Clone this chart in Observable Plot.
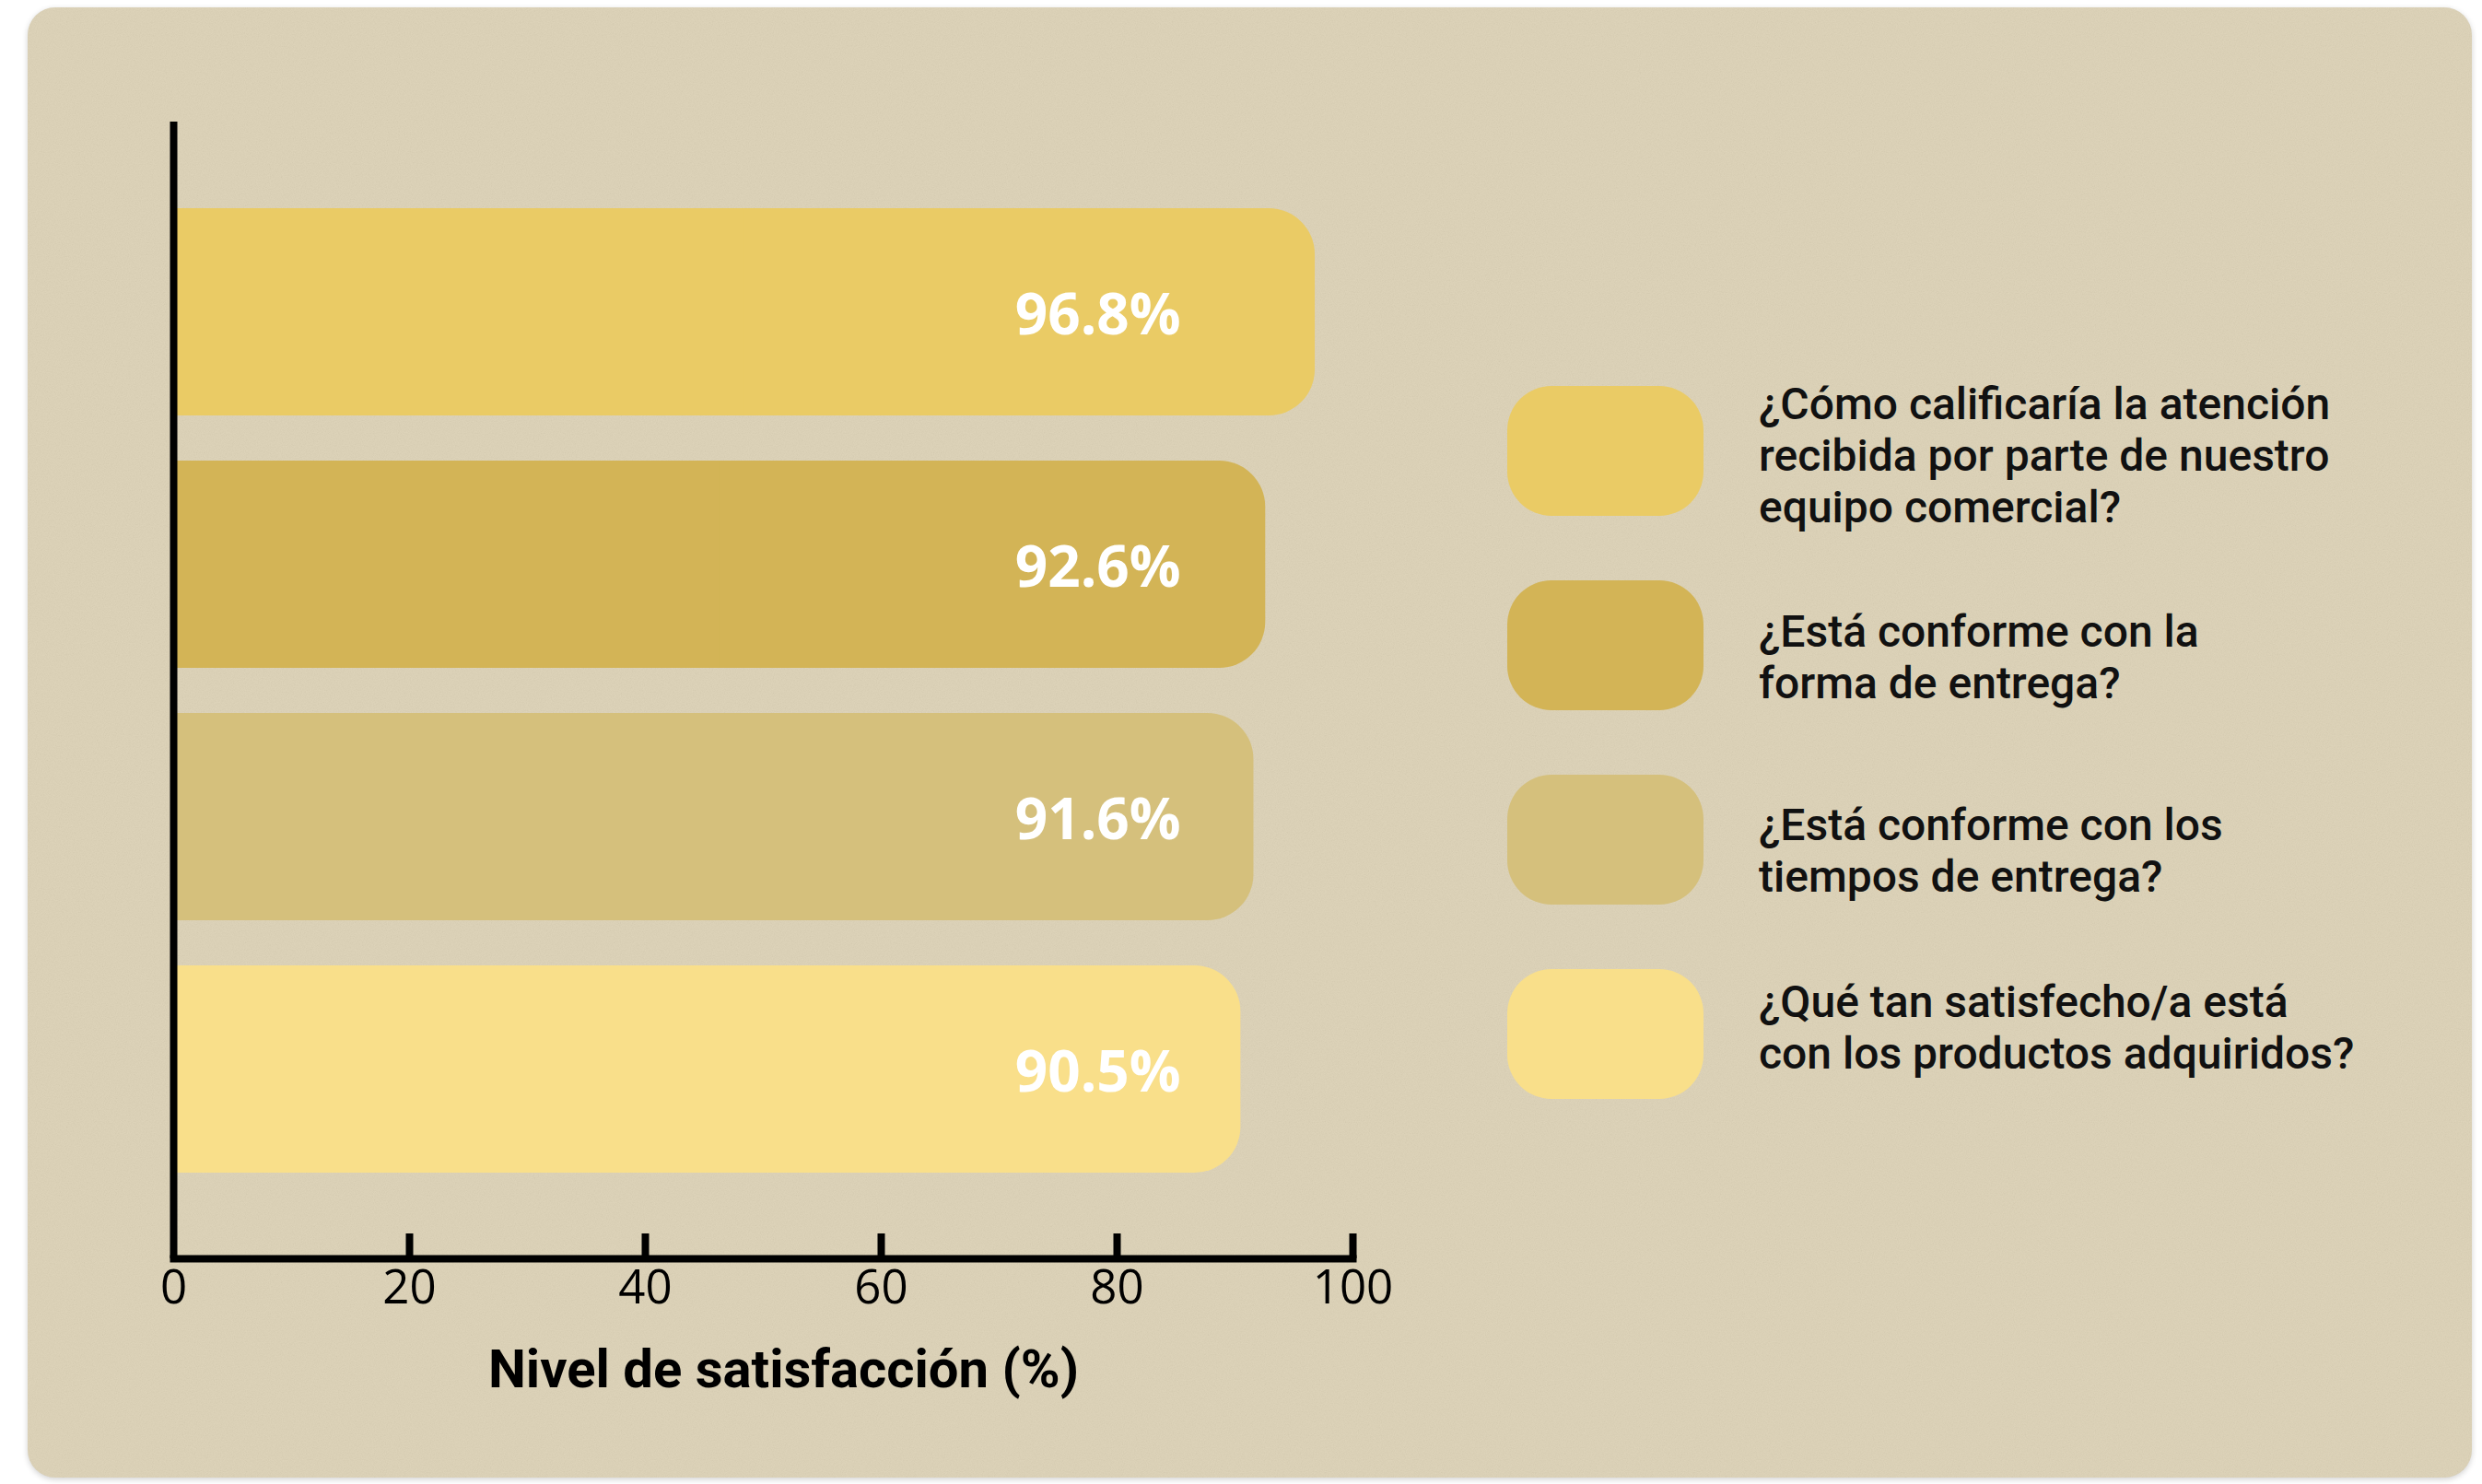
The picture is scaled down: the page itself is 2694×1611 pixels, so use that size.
<!DOCTYPE html>
<html>
<head>
<meta charset="utf-8">
<script src="https://cdn.jsdelivr.net/npm/d3@7"></script>
<script src="https://cdn.jsdelivr.net/npm/@observablehq/plot@0.6"></script>
<style>
  html, body { margin: 0; padding: 0; background: #ffffff; width: 2694px; height: 1611px; overflow: hidden; }
  #card { position: absolute; left: 30px; top: 8px; width: 2653px; height: 1596px; border-radius: 30px;
          background-color: #DCD1B6; box-shadow: 0 2px 6px rgba(0,0,0,0.18); }
  #chart { position: absolute; left: 0; top: 0; }
  #legend { position: absolute; left: 1636px; top: 0; }
  .item { position: absolute; left: 0; display: flex; align-items: center; height: 141px; }
  .sw { width: 213px; height: 141px; border-radius: 48px; flex: none; }
  .lab { margin-left: 60px; font-family: Roboto, sans-serif; font-weight: 500; font-size: 48px;
         line-height: 56px; color: #111; white-space: pre; position: relative; }
</style>
</head>
<body>
<div id="card"></div>
<div id="chart"></div>
<div id="legend"></div>
<script>
// ---- data ----
const questions = [
  "¿Cómo calificaría la atención\nrecibida por parte de nuestro\nequipo comercial?",
  "¿Está conforme con la\nforma de entrega?",
  "¿Está conforme con los\ntiempos de entrega?",
  "¿Qué tan satisfecho/a está\ncon los productos adquiridos?"
];
const satisfaction = [96.8, 92.6, 91.6, 90.5];
const colors = ["#EACB65", "#D3B456", "#D5C07C", "#F9DF8A"];
const xTicks = [0, 20, 40, 60, 80, 100];
const axisTitle = "Nivel de satisfacción (%)";

const data = questions.map((q, i) => ({q, v: satisfaction[i]}));

// subtle paper noise on the card
const noise = `<svg xmlns='http://www.w3.org/2000/svg' width='400' height='400'><filter id='n'><feTurbulence type='fractalNoise' baseFrequency='0.85' numOctaves='3' stitchTiles='stitch'/><feColorMatrix type='matrix' values='1 0 0 0 0  1 0 0 0 0  1 0 0 0 0  0 0 0 0 0.06'/></filter><rect width='100%' height='100%' filter='url(#n)'/></svg>`;
document.getElementById("card").style.backgroundImage = `url("data:image/svg+xml;charset=utf-8,${encodeURIComponent(noise)}")`;

const plot = Plot.plot({
  width: 1700,
  height: 1611,
  marginLeft: 188,
  marginRight: 232,
  marginTop: 132,
  marginBottom: 245,
  style: {background: "transparent", fontFamily: "'Open Sans', sans-serif", color: "#000", overflow: "visible"},
  x: {domain: [0, 100]},
  y: {domain: questions, paddingInner: 0.18, paddingOuter: 0.34, axis: null},
  color: {domain: questions, range: colors},
  marks: [
    Plot.barX(data, {x: "v", y: "q", fill: "q", rx: 50}),
    Plot.barX(data, {x1: () => 0, x2: d => d.v / 2, y: "q", fill: "q"}),
    Plot.text(data, {
      x: () => 85.4, y: "q", dy: 4, text: d => d.v.toFixed(1) + "%",
      textAnchor: "end", fill: "white", fontSize: 62, fontWeight: 700, fontFamily: "'Open Sans', sans-serif"
    }),
    Plot.ruleX([0], {strokeWidth: 8, stroke: "#000"}),
    Plot.frame({anchor: "bottom", strokeWidth: 8, stroke: "#000", strokeLinecap: "square"}),
    Plot.axisX(xTicks.slice(1), {tickSize: 27, dy: -27, strokeWidth: 8, tickFormat: () => "", label: null}),
    Plot.axisX(xTicks, {tickSize: 0, tickPadding: 12, fontSize: 51, fontFamily: "'Open Sans', sans-serif", label: null}),
    Plot.text([axisTitle], {
      frameAnchor: "bottom", dx: 22, dy: 98, lineAnchor: "top",
      fontSize: 58, fontWeight: 700, fontFamily: "Roboto, sans-serif", fill: "#000"
    })
  ]
});
document.getElementById("chart").appendChild(plot);

// legend
const labelShift = [5, 13, 12, -7];
const legend = document.getElementById("legend");
questions.forEach((q, i) => {
  const item = document.createElement("div");
  item.className = "item";
  item.style.top = (419 + i * 211) + "px";
  const sw = document.createElement("div");
  sw.className = "sw";
  sw.style.background = colors[i];
  const lab = document.createElement("div");
  lab.className = "lab";
  lab.style.top = labelShift[i] + "px";
  lab.textContent = q;
  item.appendChild(sw);
  item.appendChild(lab);
  legend.appendChild(item);
});
</script>
</body>
</html>
